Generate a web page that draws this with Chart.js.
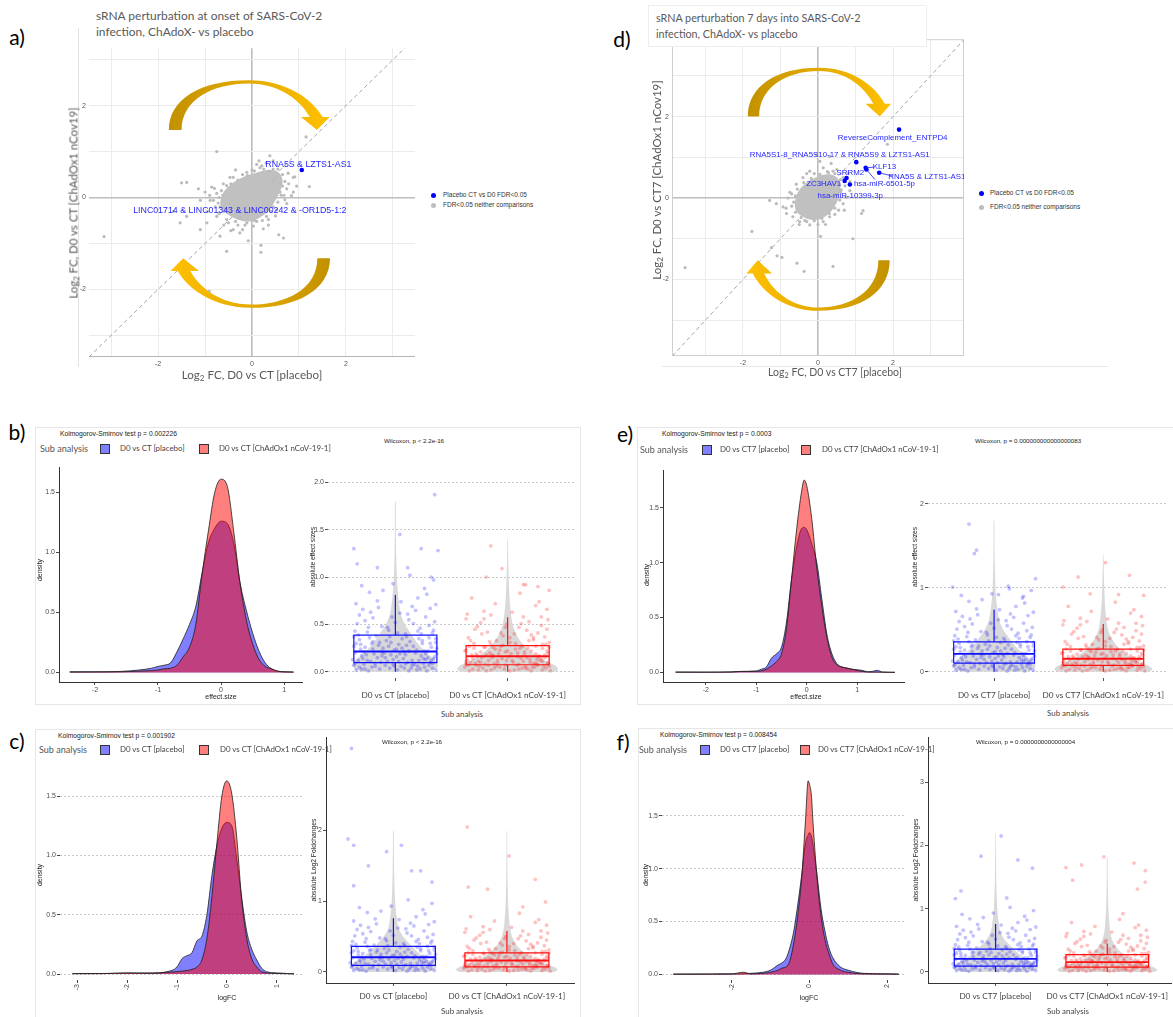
<!DOCTYPE html>
<html lang="en">
<head>
<meta charset="UTF-8">
<title>sRNA perturbation, ChAdOx1 vs placebo</title>
<script src="https://cdn.jsdelivr.net/npm/chart.js@4.4.1/dist/chart.umd.min.js"></script>
<style>
  body { margin: 0; width: 1173px; height: 1017px; position: relative; overflow: hidden; background: #fff; }
  .t { position: absolute; white-space: nowrap; }
  .fr { position: absolute; border: 1px solid #E6E6E6; box-sizing: border-box; }
  .key { position: absolute; width: 10px; height: 10px; border: 1px solid #333; box-sizing: border-box; }
  sub { font-size: 70%; vertical-align: -0.25em; line-height: 0; }
</style>
</head>
<body>
<div class="fr" style="left:35px;top:427px;width:546px;height:278px"></div>
<div class="fr" style="left:637px;top:427px;width:540px;height:278px"></div>
<div class="fr" style="left:35px;top:729px;width:546px;height:292px"></div>
<div class="fr" style="left:638px;top:728px;width:540px;height:292px"></div>
<div style="position:absolute;left:78px;top:28px;width:1px;height:339px;background:#E2E2E2"></div>
<div style="position:absolute;left:662px;top:366px;width:446px;height:1px;background:#E8E8E8"></div>
<script>
// ---------- data: scatter panels a) and d) ----------
const gridTicks = [-3, -2, -1, 0, 1, 2, 3];
const labelTicks = [-2, 0, 2];
const diagonal = [-4, 4];

const aGray = [[-3.15,-0.85],[-0.75,1.0],[-1.5,0.32],[-1.14,0.19],[-0.91,-2.04],[-0.54,-1.17],[-0.08,-0.94],
  [0.19,-1.04],[0.19,-1.19],[0.57,-0.81],[0.67,-0.88],[1.15,1.32],[1.22,0.24],[0.38,0.91],[0.84,0.04],[0.24,-0.68],
  [0.77,0.53],[0.91,0.45],[0.37,0.57],[0.45,0.37],[0.6,0.3],[0.74,0.19],[0.68,0.05],[0.88,0.12],[0.1,0.72],
  [0.17,0.65],[-0.11,0.55],[-0.47,0.44],[-0.61,0.3],[-0.86,0.23],[-1.0,0.12],[-0.82,-0.06],[-1.1,-0.06],[-1.39,0.33],
  [-1.1,-0.7],[-0.96,-0.55],[-0.68,-0.84],[-0.4,-0.7],[-0.26,-0.77],[0.03,-0.62],[0.1,-0.52],[-0.11,-0.55],
  [-0.54,-0.48],[-0.75,-0.41],[-1.39,-0.41],[-1.53,-0.55],[-1.67,-0.3],[-0.26,-0.45],[0.31,-0.41],[0.52,-0.27],
  [0.74,-0.13],[0.6,0.12],[0.88,0.44],[0.21,0.69],[-0.4,0.44],[-0.54,0.26],[-0.75,0.09],[-0.89,-0.06],[-0.68,-0.2],
  [-0.47,-0.13],[0.5,0.45],[0.55,0.62],[0.3,0.75],[-0.2,0.5],[-0.6,-0.3],[-0.3,-0.6],[0.4,-0.3],[0.65,0.25],
  [-0.7,0.0],[0.0,0.6],[-0.8,0.2],[-0.72,-0.12],[-0.65,0.15],[-0.7,-0.35],[-0.5,-0.55],[-0.35,-0.52],[-0.15,-0.6],
  [0.05,-0.5],[0.22,-0.5],[0.35,-0.48],[0.45,-0.2],[0.55,-0.1],[0.62,0.05],[0.7,0.35],[0.65,0.5],[0.45,0.62],
  [0.25,0.62],[0.05,0.58],[-0.1,0.48],[-0.3,0.38],[-0.45,0.3],[-0.62,0.05],[-0.78,-0.2],[-0.9,0.05],[0.78,0.3],
  [0.7,-0.05],[0.5,-0.4],[-0.2,-0.7],[-0.6,-0.6],[0.15,0.8],[0.45,0.8],[-0.35,0.6],[-0.95,-0.3],[0.95,0.25],
  [0.35,-0.6],[-0.45,-0.72]];
const aCore = [[-0.66,-0.1],[-0.58,0.12],[-0.4,0.3],[-0.15,0.44],[0.1,0.52],[0.32,0.58],[0.54,0.54],[0.63,0.36],
  [0.58,0.15],[0.48,-0.05],[0.34,-0.27],[0.15,-0.42],[-0.05,-0.5],[-0.27,-0.47],[-0.47,-0.37],[-0.62,-0.25]];
const aBlue = [[1.06, 0.6]];
const aLabels = ['RNA5S & LZTS1-AS1', 'LINC01714 & LINC01343 & LINC00242 & -OR1D5-1:2'];
const aLabelX = [1.2, -0.26];
const aLabelY = [0.72, -0.28];

const dGray = [[-1.76,-0.82],[-3.54,-1.71],[-1.24,-1.22],[-1.09,-1.42],[-0.96,-1.46],[-0.56,-1.6],[-0.37,-1.8],
  [0.4,-1.68],[0.93,-1.0],[0.07,-0.94],[1.16,-0.38],[1.2,-0.31],[-1.29,-0.06],[-1.11,-0.14],[-0.93,-0.22],
  [-0.75,0.14],[-0.84,-0.38],[-0.67,-0.46],[-0.49,-0.58],[-0.22,-0.66],[0.14,-0.58],[0.31,-0.46],[0.67,-0.14],
  [0.76,0.02],[0.85,0.18],[0.58,0.34],[0.4,0.66],[0.14,0.74],[0.05,0.9],[-0.22,0.66],[-0.4,0.5],[-0.58,0.34],
  [0.67,0.5],[1.85,1.32],[0.31,1.02],[-0.04,1.06],[-0.6,0.05],[-0.7,-0.2],[0.55,-0.3],[0.6,0.15],[0.25,0.65],
  [-0.1,0.6],[-0.35,-0.55],[0.45,-0.4],[0.0,-0.65],[0.85,0.4],[-0.7,0.1],[-0.65,-0.1],[-0.6,-0.35],[-0.45,-0.48],
  [-0.3,-0.58],[-0.1,-0.56],[0.1,-0.5],[0.3,-0.38],[0.45,-0.25],[0.58,-0.05],[0.62,0.2],[0.6,0.45],[0.45,0.6],
  [0.28,0.62],[0.05,0.58],[-0.18,0.48],[-0.38,0.38],[-0.55,0.22],[-0.8,0.0],[0.72,0.3],[0.5,0.7],[-0.3,0.6],
  [-0.85,-0.25],[0.2,-0.65],[0.8,0.6],[0.35,0.85],[-0.5,-0.65],[0.7,-0.3]];
const dCore = [[-0.6,-0.12],[-0.52,0.12],[-0.33,0.33],[-0.08,0.47],[0.18,0.55],[0.41,0.53],[0.56,0.37],[0.56,0.12],
  [0.46,-0.13],[0.29,-0.35],[0.06,-0.49],[-0.18,-0.51],[-0.41,-0.43],[-0.56,-0.31]];
const dBlue = [[2.16,1.68],[1.02,0.88],[1.27,0.74],[0.76,0.49],[1.63,0.62],[1.29,0.70],[0.71,0.42],[0.85,0.33]];
const dLabels = ['ReverseComplement_ENTPD4', 'RNA5S1-8_RNA5S10-17 & RNA5S9 & LZTS1-AS1', 'KLF13', 'SRRM2',
  'RNA5S & LZTS1-AS1', 'hsa-miR-6501-5p', 'ZC3HAV1', 'hsa-miR-10399-3p'];
const dLabelX = [1.99, 0.58, 1.77, 0.86, 2.9, 1.77, 0.15, 0.86];
const dLabelY = [1.49, 1.05, 0.77, 0.63, 0.51, 0.34, 0.34, 0.06];
const dSegments = [[1.27,0.74,1.5,0.76],[1.63,0.62,1.98,0.54],[1.29,0.70,1.52,0.45]];

// ---------- data: density plots ----------
const bX = [-2.4,-2.0,-1.6,-1.3,-1.1,-1.0,-0.9,-0.8,-0.7,-0.6,-0.5,-0.4,-0.3,-0.2,-0.1,0,0.1,0.2,0.3,0.4,0.5,0.6,0.7,0.8,0.9,1.0,1.15];
const bBlue = [0.005,0.005,0.008,0.02,0.035,0.05,0.06,0.08,0.17,0.28,0.4,0.55,0.83,1.08,1.2,1.26,1.24,1.08,0.75,0.52,0.33,0.18,0.08,0.03,0.01,0.005,0.003];
const bRed = [0.003,0.004,0.005,0.01,0.015,0.02,0.03,0.035,0.06,0.13,0.21,0.4,0.82,1.18,1.5,1.61,1.55,1.18,0.75,0.44,0.24,0.11,0.05,0.03,0.01,0.005,0.003];

const cX = [-3.1,-2.5,-2.0,-1.5,-1.2,-1.0,-0.9,-0.8,-0.7,-0.6,-0.5,-0.4,-0.3,-0.2,-0.1,0,0.1,0.2,0.3,0.4,0.5,0.6,0.7,0.8,1.0,1.2,1.35];
const cBlue = [0.004,0.004,0.008,0.01,0.02,0.06,0.13,0.155,0.18,0.28,0.32,0.5,0.83,1.08,1.23,1.28,1.25,0.97,0.64,0.36,0.21,0.12,0.05,0.02,0.01,0.005,0.002];
const cRed = [0.003,0.004,0.01,0.006,0.015,0.02,0.025,0.03,0.04,0.06,0.12,0.3,0.65,1.1,1.5,1.63,1.52,1.15,0.62,0.3,0.13,0.06,0.02,0.01,0.005,0.003,0.002];

const eX = [-2.6,-2.0,-1.5,-1.3,-1.0,-0.9,-0.8,-0.7,-0.6,-0.5,-0.4,-0.3,-0.2,-0.1,-0.05,0,0.1,0.2,0.3,0.4,0.5,0.6,0.7,0.8,0.9,1.0,1.1,1.2,1.3,1.4,1.5,1.75];
const eBlue = [0.005,0.004,0.006,0.01,0.015,0.03,0.05,0.13,0.17,0.23,0.46,0.85,1.14,1.31,1.32,1.3,1.17,1.0,0.67,0.35,0.17,0.08,0.05,0.04,0.03,0.025,0.02,0.008,0.01,0.02,0.005,0.002];
const eRed = [0.003,0.003,0.005,0.01,0.01,0.015,0.03,0.06,0.1,0.17,0.4,0.85,1.3,1.65,1.75,1.7,1.4,0.95,0.6,0.32,0.14,0.07,0.05,0.04,0.03,0.02,0.01,0.005,0.004,0.004,0.003,0.002];

const fX = [-3.5,-2.5,-2.0,-1.7,-1.5,-1.2,-1.0,-0.8,-0.7,-0.6,-0.5,-0.4,-0.3,-0.2,-0.1,-0.03,0,0.05,0.1,0.2,0.3,0.4,0.5,0.6,0.8,1.0,1.2,1.4,2.0,2.3];
const fBlue = [0.003,0.004,0.005,0.006,0.01,0.02,0.04,0.09,0.11,0.15,0.255,0.41,0.655,0.93,1.24,1.32,1.34,1.31,1.21,0.93,0.62,0.41,0.255,0.16,0.07,0.04,0.02,0.01,0.005,0.003];
const fRed = [0.002,0.003,0.004,0.02,0.005,0.01,0.02,0.04,0.06,0.07,0.13,0.3,0.55,0.9,1.45,1.83,1.8,1.7,1.4,0.9,0.55,0.33,0.2,0.1,0.04,0.02,0.01,0.005,0.004,0.002];

// ---------- data: violin / box / jitter plots ----------
const violinY = [0,0.03,0.07,0.12,0.2,0.3,0.4,0.5,0.6,0.7,0.8,0.9,1.0,1.2,1.4,1.6,1.8,2.0,2.2];

// [x offset from group centre, value]
const jitterPlacebo = [[-0.35,0.02],[-0.21,0.05],[0.12,0.01],[0.30,0.07],[-0.05,0.04],[0.22,0.03],[-0.28,0.08],
  [0.05,0.06],[0.36,0.02],[-0.14,0.03],[0.17,0.08],[-0.32,0.05],[0.26,0.05],[-0.09,0.07],[0.02,0.02],[-0.24,0.01],
  [0.33,0.04],[0.09,0.085],[-0.18,0.06],[0.14,0.04],[-0.37,0.07],[0.28,0.01],[-0.02,0.08],[0.20,0.06],[-0.30,0.03],
  [-0.33,0.12],[0.11,0.10],[-0.16,0.15],[0.27,0.13],[0.04,0.19],[-0.26,0.18],[0.35,0.16],[-0.07,0.11],[0.18,0.20],
  [-0.36,0.20],[0.31,0.10],[-0.12,0.17],[0.07,0.14],[-0.22,0.11],[0.23,0.17],[-0.02,0.13],[0.15,0.12],[-0.29,0.14],
  [0.37,0.19],[-0.10,0.20],[0.01,0.16],[0.25,0.09],[-0.19,0.19],[0.34,0.14],[-0.04,0.18],
  [-0.31,0.24],[0.16,0.27],[-0.08,0.33],[0.29,0.22],[-0.23,0.36],[0.06,0.25],[0.36,0.31],[-0.15,0.28],[0.21,0.35],
  [-0.35,0.30],[0.10,0.37],[-0.01,0.23],[0.32,0.26],[-0.27,0.26],[0.13,0.32],[-0.11,0.25],[0.24,0.30],[-0.37,0.37],
  [0.03,0.29],[-0.20,0.32],[0.30,0.36],[-0.05,0.37],[0.19,0.23],[-0.32,0.34],[0.08,0.21],
  [-0.25,0.42],[0.22,0.46],[-0.34,0.51],[0.12,0.55],[0.33,0.41],[-0.12,0.48],[0.04,0.62],[-0.29,0.66],[0.27,0.58],
  [-0.06,0.44],[0.36,0.71],[-0.20,0.57],[0.15,0.69],[-0.36,0.43],[0.00,0.52],[0.30,0.49],[-0.16,0.75],[0.20,0.78],
  [-0.32,0.60],[0.09,0.40],[-0.23,0.84],[0.26,0.88],[-0.02,0.93],[0.34,0.97],[-0.30,0.91],
  [-0.27,0.03],[0.08,0.04],[0.33,0.09],[-0.13,0.10],[0.19,0.02],[-0.38,0.13],[0.03,0.11],[0.29,0.15],[-0.20,0.24],
  [0.12,0.22],[-0.06,0.27],[0.37,0.25],[-0.31,0.29],[0.24,0.33],[-0.17,0.38],[0.06,0.35],[0.34,0.44],[-0.24,0.47],
  [0.16,0.51],[-0.03,0.58],[-0.36,0.09],[0.21,0.12],[-0.09,0.15],[0.27,0.19],[-0.28,0.21],[0.01,0.24],[0.31,0.30],
  [-0.14,0.31],[0.10,0.28],[-0.33,0.39],[0.23,0.40],[-0.07,0.47],[0.35,0.53],[-0.22,0.63],[0.18,0.65],[-0.35,0.72],
  [0.05,0.74],[0.28,0.82],[-0.11,0.86],[0.13,1.02],[-0.25,0.12],[0.15,0.07],[-0.01,0.06],[0.32,0.12],[-0.18,0.09],
  [0.26,0.22],[-0.30,0.17],[0.09,0.18],[-0.12,0.21],[0.36,0.35],[-0.04,0.31],[0.20,0.43],[-0.27,0.54],[0.11,0.61],
  [0.31,0.67],[-0.15,0.68],[0.02,0.41],[-0.37,0.27],[0.25,0.14],[-0.21,0.30]];
const jitterChad = [[-0.34,0.01],[0.18,0.03],[-0.07,0.05],[0.31,0.02],[-0.22,0.04],[0.08,0.07],[0.37,0.06],
  [-0.15,0.02],[0.24,0.05],[-0.38,0.05],[0.02,0.01],[-0.28,0.07],[0.13,0.04],[-0.10,0.06],[0.34,0.04],[-0.19,0.01],
  [0.27,0.07],[-0.03,0.03],[0.06,0.02],[-0.31,0.03],[0.21,0.01],[-0.25,0.06],[0.16,0.06],[-0.12,0.04],[0.38,0.01],
  [-0.29,0.09],[0.14,0.11],[-0.05,0.14],[0.26,0.08],[-0.36,0.13],[0.05,0.10],[0.33,0.15],[-0.17,0.12],[0.20,0.13],
  [-0.23,0.15],[0.10,0.08],[-0.01,0.12],[0.36,0.10],[-0.33,0.10],[0.17,0.15],[-0.09,0.09],[0.29,0.12],[-0.26,0.11],
  [0.01,0.16],[-0.14,0.15],[0.23,0.09],[-0.37,0.08],[0.12,0.14],[-0.20,0.08],[0.31,0.11],
  [-0.32,0.18],[0.09,0.20],[-0.11,0.24],[0.28,0.17],[-0.21,0.26],[0.03,0.19],[0.35,0.22],[-0.06,0.27],[0.18,0.25],
  [-0.37,0.23],[0.25,0.19],[-0.16,0.20],[0.13,0.27],[-0.27,0.17],[0.37,0.26],[-0.02,0.21],[0.21,0.22],[-0.34,0.27],
  [0.07,0.24],[-0.13,0.17],[0.31,0.25],[-0.24,0.21],[0.15,0.18],[-0.08,0.19],[0.33,0.18],
  [-0.30,0.30],[0.19,0.33],[-0.04,0.38],[0.34,0.29],[-0.18,0.42],[0.10,0.47],[-0.35,0.36],[0.27,0.41],[0.02,0.31],
  [-0.24,0.52],[0.36,0.55],[-0.10,0.33],[0.14,0.58],[-0.29,0.45],[0.23,0.36],[-0.15,0.29],[0.06,0.40],[0.30,0.49],
  [-0.37,0.56],[-0.01,0.50],[-0.21,0.64],[0.25,0.70],[-0.32,0.78],[0.11,0.83],[0.35,0.66],
  [-0.26,0.02],[0.10,0.03],[0.35,0.08],[-0.12,0.09],[0.22,0.05],[-0.37,0.11],[0.04,0.12],[0.30,0.14],[-0.19,0.18],
  [0.15,0.21],[-0.07,0.23],[0.36,0.20],[-0.30,0.25],[0.25,0.27],[-0.16,0.32],[0.07,0.30],[0.33,0.37],[-0.23,0.40],
  [0.17,0.44],[-0.02,0.47],[-0.35,0.07],[0.20,0.10],[-0.09,0.12],[0.27,0.16],[-0.28,0.19],[0.00,0.22],[0.31,0.29],
  [-0.13,0.26],[0.11,0.25],[-0.33,0.33],[0.23,0.34],[-0.06,0.41],[0.35,0.45],[-0.21,0.56],[0.19,0.53],[-0.36,0.61],
  [0.04,0.63],[0.28,0.74],[-0.11,0.72],[0.14,0.92],[-0.24,0.10],[0.16,0.04],[-0.02,0.07],[0.32,0.06],[-0.17,0.07],
  [0.26,0.13],[-0.31,0.14],[0.09,0.16],[-0.14,0.18],[0.37,0.31],[-0.04,0.28],[0.21,0.39],[-0.27,0.48],[0.12,0.51],
  [0.30,0.58],[-0.15,0.60],[0.02,0.36],[-0.38,0.22],[0.25,0.09],[-0.20,0.26]];

const bPlaceboOut = [[0.35,1.87],[0.04,1.45],[-0.37,1.30],[0.23,1.30],[0.38,1.28],[-0.16,1.10],[0.11,1.10],[-0.34,1.14],[0.32,1.00]];
const bChadOut = [[-0.15,1.33],[-0.19,1.00],[-0.05,1.09],[0.16,0.92],[0.37,0.86],[0.27,0.90]];
const ePlaceboOut = [[-0.23,1.76],[-0.18,1.41],[-0.16,1.45],[-0.38,1.01],[0.38,1.11],[0.14,0.99],[0.04,0.92],[0.27,0.90]];
const eChadOut = [[0.02,1.30],[-0.23,1.13],[0.24,1.15],[-0.37,1.01],[-0.12,0.93],[0.37,0.91]];
const cPlaceboOut = [[-0.37,3.16],[-0.40,1.88],[-0.35,1.79],[0.07,1.79],[-0.06,1.70],[-0.22,1.50],[0.16,1.43],[0.24,1.43],[0.34,1.27],[-0.35,1.22]];
const cChadOut = [[-0.35,2.05],[0.02,1.64],[-0.34,1.20],[0.25,1.31],[0.34,0.99],[-0.17,1.17]];
const fPlaceboOut = [[0.05,2.15],[-0.13,1.83],[0.20,1.77],[0.33,1.64],[-0.31,1.28],[-0.36,1.16],[0.10,1.17]];
const fChadOut = [[-0.03,1.82],[0.24,1.72],[-0.23,1.69],[-0.37,1.65],[0.34,1.60],[-0.31,1.45],[0.34,1.42],[0.27,1.31]];

const bPlaceboViolin = [0.3,0.36,0.38,0.36,0.28,0.2,0.14,0.085,0.05,0.035,0.025,0.018,0.013,0.008,0.005,0.004,0.003];
const bChadViolin = [0.42,0.45,0.42,0.33,0.22,0.13,0.075,0.045,0.03,0.022,0.016,0.012,0.009,0.005,0.002];
const ePlaceboViolin = [0.3,0.36,0.38,0.36,0.28,0.2,0.14,0.085,0.05,0.035,0.025,0.018,0.013,0.008,0.005,0.004,0.003];
const eChadViolin = [0.42,0.45,0.42,0.33,0.22,0.13,0.075,0.045,0.03,0.022,0.016,0.012,0.009,0.005,0.002];
const cPlaceboViolin = [0.3,0.36,0.38,0.36,0.28,0.2,0.14,0.085,0.05,0.035,0.027,0.02,0.015,0.01,0.007,0.005,0.004,0.003];
const cChadViolin = [0.42,0.45,0.42,0.33,0.22,0.13,0.075,0.045,0.03,0.022,0.017,0.013,0.01,0.007,0.005,0.004,0.003,0.002];
const fPlaceboViolin = [0.3,0.36,0.38,0.36,0.28,0.2,0.14,0.085,0.05,0.035,0.027,0.02,0.015,0.01,0.007,0.005,0.004,0.003,0.002];
const fChadViolin = [0.42,0.45,0.42,0.33,0.22,0.13,0.075,0.045,0.03,0.022,0.017,0.013,0.01,0.007,0.005,0.004,0.003];

// [lower whisker, q1, median, q3, upper whisker]
const bPlaceboBox = [0.0, 0.097, 0.214, 0.387, 0.81];
const bChadBox = [0.0, 0.075, 0.165, 0.276, 0.576];
const ePlaceboBox = [0.0, 0.105, 0.214, 0.358, 0.74];
const eChadBox = [0.0, 0.078, 0.156, 0.272, 0.57];
const cPlaceboBox = [0.0, 0.093, 0.208, 0.36, 0.76];
const cChadBox = [0.0, 0.07, 0.162, 0.268, 0.578];
const fPlaceboBox = [0.0, 0.093, 0.207, 0.36, 0.757];
const fChadBox = [0.0, 0.077, 0.155, 0.273, 0.45];

const catsCT = ['D0 vs CT [placebo]', 'D0 vs CT [ChAdOx1 nCoV-19-1]'];
const catsCT7 = ['D0 vs CT7 [placebo]', 'D0 vs CT7 [ChAdOx1 nCoV-19-1]'];

// ---------- helpers ----------
const CAL = 'Lato', ARI = '"Liberation Sans"';
Chart.defaults.font.family = "'Liberation Sans', Arial, sans-serif";
const mctx = document.createElement('canvas').getContext('2d');
function fitSize(text, family, width) {
  mctx.font = `100px ${family}`;
  return +(100 * width / mctx.measureText(text).width).toFixed(2);
}

function txt(html, x, y, opt) {
  const d = document.createElement('div');
  d.className = 't';
  d.innerHTML = html;
  const fam = opt.fam || CAL;
  const size = opt.w ? fitSize(opt.plain || html, fam, opt.w) : opt.size;
  const tr = {l: 'translate(0,-50%)', c: 'translate(-50%,-50%)', v: 'translate(-50%,-50%) rotate(-90deg)'}[opt.anchor || 'c'];
  d.style.cssText = `left:${x}px;top:${y}px;transform:${tr};font-family:${fam};font-size:${size}px;` +
    `color:${opt.color || '#444'};line-height:1.15`;
  document.body.appendChild(d);
}

function key(x, y, color) {
  const d = document.createElement('div');
  d.className = 'key';
  d.style.left = (x - 5) + 'px';
  d.style.top = (y - 5) + 'px';
  d.style.background = color;
  document.body.appendChild(d);
}

function place(l, t, r, b, yW, xH) {
  const c = document.createElement('canvas');
  const w = r - l + yW, h = b - t + xH;
  c.width = w; c.height = h;
  c.style.cssText = `position:absolute;left:${l - yW}px;top:${t}px;width:${w}px;height:${h}px`;
  document.body.appendChild(c);
  return c;
}

function baseOptions(yW, xH, xs, ys) {
  xs.afterFit = s => { s.height = xH; };
  ys.afterFit = s => { s.width = yW; };
  return {
    responsive: false, animation: false, devicePixelRatio: 1, events: [],
    layout: {padding: 0, autoPadding: false},
    plugins: {legend: {display: false}, tooltip: {enabled: false}},
    scales: {x: xs, y: ys}
  };
}

const pts = arr => arr.map(([x, y]) => ({x, y}));
const zip = (xs, ys) => xs.map((x, i) => ({x, y: ys[i]}));
const fixed = vals => s => { s.ticks = vals.map(v => ({value: v})); };

// ---------- scatter panels ----------
function scatterScale(min, max, pad) {
  return {
    type: 'linear', min, max,
    afterBuildTicks: fixed(gridTicks),
    ticks: {callback: v => labelTicks.includes(v) ? String(v) : '', font: {size: 7}, color: '#555', padding: pad,
      maxRotation: 0, autoSkip: false},
    grid: {color: c => c.tick && c.tick.value === 0 ? '#BDBDBD' : '#EBEBEB',
      lineWidth: c => c.tick && c.tick.value === 0 ? 1.6 : 1, drawTicks: false},
    border: {display: false}
  };
}

const arrowShape = [
  ['M', 0, 0], ['C', 0, 0.62, 0.2, 1, 0.5, 1], ['C', 0.74, 1, 0.9, 0.62, 0.965, 0.26],
  ['L', 1.01, 0.26], ['L', 0.93, 0], ['L', 0.83, 0.26], ['L', 0.885, 0.26],
  ['C', 0.83, 0.58, 0.7, 0.935, 0.5, 0.935], ['C', 0.28, 0.935, 0.08, 0.62, 0.08, 0]
];

function arrowPlugin(arrows) {
  return {
    id: 'arrows',
    afterDatasetsDraw(chart) {
      const {ctx, scales: {x, y}} = chart;
      arrows.forEach(a => {
        const x0 = x.getPixelForValue(a.from), x1 = x.getPixelForValue(a.to);
        const y0 = y.getPixelForValue(a.base), y1 = y.getPixelForValue(a.peak);
        const X = u => x0 + u * (x1 - x0), Y = v => y0 + v * (y1 - y0);
        const g = ctx.createLinearGradient(X(0), 0, X(1), 0);
        g.addColorStop(0, '#C29100');
        g.addColorStop(0.45, '#E0A800');
        g.addColorStop(1, '#FFC000');
        ctx.save();
        ctx.beginPath();
        arrowShape.forEach(([cmd, ...p]) => {
          if (cmd === 'M') ctx.moveTo(X(p[0]), Y(p[1]));
          else if (cmd === 'L') ctx.lineTo(X(p[0]), Y(p[1]));
          else ctx.bezierCurveTo(X(p[0]), Y(p[1]), X(p[2]), Y(p[3]), X(p[4]), Y(p[5]));
        });
        ctx.closePath();
        ctx.fillStyle = g;
        ctx.fill();
        ctx.restore();
      });
    }
  };
}

function labelPlugin(texts, lx, ly, segs, size) {
  return {
    id: 'pointLabels',
    afterDatasetsDraw(chart) {
      const {ctx, scales: {x, y}} = chart;
      ctx.save();
      ctx.strokeStyle = '#1F1FFF';
      ctx.lineWidth = 0.8;
      segs.forEach(([a, b, c, d]) => {
        ctx.beginPath();
        ctx.moveTo(x.getPixelForValue(a), y.getPixelForValue(b));
        ctx.lineTo(x.getPixelForValue(c), y.getPixelForValue(d));
        ctx.stroke();
      });
      ctx.font = `${size}px ${ARI}`;
      ctx.fillStyle = '#1F1FFF';
      ctx.textAlign = 'center';
      ctx.textBaseline = 'middle';
      texts.forEach((t, i) => ctx.fillText(t, x.getPixelForValue(lx[i]), y.getPixelForValue(ly[i])));
      ctx.restore();
    }
  };
}

function framePlugin(mode) {
  return {
    id: 'frame',
    beforeDatasetsDraw(chart) {
      const {ctx, chartArea: ca} = chart;
      ctx.save();
      ctx.strokeStyle = mode === 'box' ? '#CFCFCF' : '#B5B5B5';
      ctx.lineWidth = 1;
      ctx.beginPath();
      if (mode === 'box') ctx.rect(ca.left + 0.5, ca.top + 0.5, ca.width - 1, ca.height - 1);
      else { ctx.moveTo(ca.left, ca.bottom - 0.5); ctx.lineTo(ca.right, ca.bottom - 0.5); }
      ctx.stroke();
      ctx.restore();
    }
  };
}

function scatterPanel(box, xr, yr, gray, core, blue, labels, arrows, frame) {
  const [l, t, r, b, yW, xH] = box;
  const canvas = place(l, t, r, b, yW, xH);
  new Chart(canvas, {
    type: 'scatter',
    data: {datasets: [
      {data: pts(blue), pointRadius: 2.3, pointBackgroundColor: '#0000FF', pointBorderWidth: 0, order: 0},
      {data: pts(gray), pointRadius: 1.6, pointBackgroundColor: '#BBBBBB', pointBorderWidth: 0, order: 1},
      {type: 'line', data: pts(core.concat([core[0]])), fill: 'shape', backgroundColor: '#C0C0C0',
        borderColor: '#C0C0C0', borderWidth: 2, tension: 0.35, pointRadius: 0, order: 2},
      {type: 'line', data: diagonal.map(v => ({x: v, y: v})), borderColor: '#9C9C9C', borderWidth: 0.9,
        borderDash: [4, 3], pointRadius: 0, fill: false, order: 3}
    ]},
    options: baseOptions(yW, xH, scatterScale(xr[0], xr[1], 3), scatterScale(yr[0], yr[1], 3)),
    plugins: [framePlugin(frame), arrowPlugin(arrows), labelPlugin(...labels)]
  });
}

scatterPanel([89, 41, 415, 357, 16, 14], [-3.47, 3.47], [-3.47, 3.25], aGray, aCore, aBlue,
  [aLabels, aLabelX, aLabelY, [], 8.8],
  [{from: -1.77, to: 1.62, base: 1.47, peak: 2.55}, {from: 1.66, to: -1.70, base: -1.32, peak: -2.40}], 'bottom');

scatterPanel([672, 32, 964, 356, 16, 14], [-3.89, 3.89], [-3.88, 3.9], dGray, dCore, dBlue,
  [dLabels, dLabelX, dLabelY, dSegments, 7.9],
  [{from: -1.87, to: 1.91, base: 2.0, peak: 3.2}, {from: 1.91, to: -1.87, base: -1.53, peak: -2.77}], 'box');

// ---------- density panels ----------
function densityPanel(box, xr, yr, xs, blue, red, xTicks, classic) {
  const [l, t, r, b, yW, xH] = box;
  const canvas = place(l, t, r, b, yW, xH);
  const curve = (ys, col, order) => ({type: 'line', data: zip(xs, ys), fill: 'origin', backgroundColor: col,
    borderColor: '#1E1E1E', borderWidth: 0.8, pointRadius: 0, cubicInterpolationMode: 'monotone', order});
  const xs_ = {type: 'linear', min: xr[0], max: xr[1], afterBuildTicks: fixed(xTicks),
    ticks: {callback: v => String(v), font: {size: 7}, color: '#4D4D4D', padding: 1, autoSkip: false,
      maxRotation: classic ? 0 : 90, minRotation: classic ? 0 : 90},
    grid: {drawOnChartArea: false, drawTicks: true, tickLength: 3, tickColor: '#444'},
    border: {display: classic, color: '#333', width: 1}};
  const ys_ = {type: 'linear', min: yr[0], max: yr[1], afterBuildTicks: fixed([0, 0.5, 1, 1.5]),
    ticks: {callback: v => v.toFixed(1), font: {size: 7}, color: '#4D4D4D', padding: 1},
    grid: {drawOnChartArea: !classic, color: '#C8C8C8', drawTicks: true, tickLength: 3, tickColor: '#444',
      tickBorderDash: []},
    border: {display: classic, color: '#333', width: 1, dash: [2, 2]}};
  new Chart(canvas, {
    type: 'scatter',
    data: {datasets: [curve(red, 'rgba(255,0,0,0.5)', 0), curve(blue, 'rgba(0,0,255,0.5)', 1)]},
    options: baseOptions(yW, xH, xs_, ys_)
  });
}

densityPanel([59, 462, 303, 682, 20, 12], [-2.57, 1.30], [-0.08, 1.71], bX, bBlue, bRed, [-2, -1, 0, 1], true);
densityPanel([663, 465, 905, 682, 20, 12], [-2.85, 1.95], [-0.086, 1.84], eX, eBlue, eRed, [-2, -1, 0, 1], true);
densityPanel([60, 765, 303, 980, 20, 14], [-3.35, 1.53], [-0.05, 1.72], cX, cBlue, cRed, [-3, -2, -1, 0, 1], false);
densityPanel([662, 765, 905, 980, 20, 14], [-3.79, 2.46], [-0.053, 1.93], fX, fBlue, fRed, [-2, 0, 2], false);

// ---------- violin + box + jitter panels ----------
const catFont = fitSize('D0 vs CT [placebo]', CAL, 67.7);

function violinPanel(box, xr, yr, yTicks, yFmt, cats, groups, classic, catPad) {
  const [l, t, r, b, yW, xH] = box;
  const canvas = place(l, t, r, b, yW, xH);
  const datasets = [];
  const seg = (p, col, w) => ({type: 'line', data: pts(p), borderColor: col, borderWidth: w, pointRadius: 0,
    fill: false, tension: 0, order: 0});
  groups.forEach((g, gi) => {
    const c = gi + 1;
    const base = gi === 0 ? jitterPlacebo : jitterChad;
    datasets.push({type: 'scatter', data: base.concat(g.out).map(([dx, y]) => ({x: c + dx, y})),
      pointRadius: 1.9, pointBackgroundColor: g.pt, pointBorderWidth: 0, order: 2});
    const right = g.violin.map((w, i) => ({x: c + w, y: violinY[i]}));
    const left = g.violin.map((w, i) => ({x: c - w, y: violinY[i]})).reverse();
    datasets.push({type: 'line', data: right.concat(left), fill: 'shape', backgroundColor: '#D9D9D9',
      borderColor: 'rgba(0,0,0,0)', borderWidth: 0, pointRadius: 0, tension: 0.25, order: 3});
    const [lo, q1, med, q3, hi] = g.box, w = 0.37;
    datasets.push(seg([[c - w, q1], [c + w, q1], [c + w, q3], [c - w, q3], [c - w, q1]], g.line, 1.2));
    datasets.push(seg([[c - w, med], [c + w, med]], g.line, 1.9));
    datasets.push(seg([[c, q3], [c, hi]], g.line, 1.2));
    datasets.push(seg([[c, lo], [c, q1]], g.line, 1.2));
  });
  const xs_ = {type: 'linear', min: xr[0], max: xr[1], afterBuildTicks: fixed([1, 2]),
    ticks: {callback: v => cats[v - 1], font: {size: catFont, family: CAL}, color: '#444', padding: catPad,
      maxRotation: 0, autoSkip: false},
    grid: {drawOnChartArea: false, drawTicks: true, tickLength: 3, tickColor: '#555'},
    border: {display: classic, color: '#333', width: 1}};
  const ys_ = {type: 'linear', min: yr[0], max: yr[1], afterBuildTicks: fixed(yTicks),
    ticks: {callback: yFmt, font: {size: 7}, color: '#4D4D4D', padding: 1},
    grid: {drawOnChartArea: !classic, color: '#C8C8C8', drawTicks: true, tickLength: 3, tickColor: '#555',
      tickBorderDash: []},
    border: {display: classic, color: '#333', width: 1, dash: [2, 2]}};
  new Chart(canvas, {type: 'scatter', data: {datasets}, options: baseOptions(yW, xH, xs_, ys_)});
}

const blueG = (violin, box, out) => ({violin, box, out, pt: 'rgba(0,0,255,0.24)', line: '#1010FF'});
const redG = (violin, box, out) => ({violin, box, out, pt: 'rgba(255,0,0,0.24)', line: '#FF1010'});

violinPanel([328, 445, 575, 678, 16, 24], [0.4, 2.6], [-0.065, 2.34], [0, 0.5, 1, 1.5, 2], v => v.toFixed(1), catsCT,
  [blueG(bPlaceboViolin, bPlaceboBox, bPlaceboOut), redG(bChadViolin, bChadBox, bChadOut)], false, 9);
violinPanel([928, 445, 1173, 678, 14, 24], [0.395, 2.576], [-0.073, 2.64], [0, 1, 2], v => String(v), catsCT7,
  [blueG(ePlaceboViolin, ePlaceboBox, ePlaceboOut), redG(eChadViolin, eChadBox, eChadOut)], false, 9);
violinPanel([326, 732, 575, 983, 14, 22], [0.406, 2.6], [-0.157, 3.32], [0, 1, 2], v => String(v), catsCT,
  [blueG(cPlaceboViolin, cPlaceboBox, cPlaceboOut), redG(cChadViolin, cChadBox, cChadOut)], true, 5);
violinPanel([928, 732, 1173, 983, 14, 22], [0.395, 2.576], [-0.175, 3.71], [0, 1, 2, 3], v => String(v), catsCT7,
  [blueG(fPlaceboViolin, fPlaceboBox, fPlaceboOut), redG(fChadViolin, fChadBox, fChadOut)], true, 5);

// ---------- text: panel letters, titles, axis titles ----------
[['a)', 17, 37], ['d)', 622, 39], ['b)', 17, 432], ['e)', 625, 434], ['c)', 17, 741], ['f)', 623, 742]]
  .forEach(([s, x, y]) => txt(s, x, y, {size: 21, color: '#000'}));

const tA = fitSize('sRNA perturbation at onset of SARS-CoV-2', CAL, 227);
txt('sRNA perturbation at onset of SARS-CoV-2', 96, 16, {size: tA, color: '#595959', anchor: 'l'});
txt('infection, ChAdoX- vs placebo', 96, 32, {size: tA, color: '#595959', anchor: 'l'});

const box = document.createElement('div');
box.style.cssText = 'position:absolute;left:648px;top:5px;width:279px;height:42px;background:#fff;border:1px solid #EEE;box-sizing:border-box';
document.body.appendChild(box);
const tD = fitSize('sRNA perturbation 7 days into SARS-CoV-2', CAL, 205);
txt('sRNA perturbation 7 days into SARS-CoV-2', 656, 18, {size: tD, color: '#595959', anchor: 'l'});
txt('infection, ChAdoX- vs placebo', 656, 34, {size: tD, color: '#595959', anchor: 'l'});

txt('Log<sub>2</sub> FC, D0 vs CT [placebo]', 252, 375, {w: 143, plain: 'Log2 FC, D0 vs CT [placebo]', color: '#595959'});
txt('Log<sub>2</sub> FC, D0 vs CT [ChAdOx1 nCov19]', 73, 203,
  {w: 194, plain: 'Log2 FC, D0 vs CT [ChAdOx1 nCov19]', color: '#595959', anchor: 'v'});
txt('Log<sub>2</sub> FC, D0 vs CT7 [placebo]', 835, 372, {w: 136, plain: 'Log2 FC, D0 vs CT7 [placebo]', color: '#595959'});
txt('Log<sub>2</sub> FC, D0 vs CT7 [ChAdOx1 nCov19]', 657, 180,
  {w: 202, plain: 'Log2 FC, D0 vs CT7 [ChAdOx1 nCov19]', color: '#595959', anchor: 'v'});

// scatter legends
const lg = {fam: ARI, color: '#333', anchor: 'l'};
const lgS = fitSize('Placebo CT vs D0 FDR<0.05', ARI, 84);
[[433, 195, 205, 443], [981, 193, 207, 990]].forEach(([kx, y1, y2, tx]) => {
  const dot = (y, col) => {
    const d = document.createElement('div');
    d.style.cssText = `position:absolute;left:${kx - 2.5}px;top:${y - 2.5}px;width:5px;height:5px;border-radius:50%;background:${col}`;
    document.body.appendChild(d);
  };
  dot(y1, '#0000FF'); dot(y2, '#BDBDBD');
  txt('Placebo CT vs D0 FDR&lt;0.05', tx, y1, Object.assign({size: lgS}, lg));
  txt('FDR&lt;0.05 neither comparisons', tx, y2, Object.assign({size: lgS}, lg));
});

// KS / Wilcoxon annotations
const sm = {fam: ARI, color: '#222', anchor: 'l'};
const ksS = fitSize('Kolmogorov-Smirnov test p = 0.002226', ARI, 117);
txt('Kolmogorov-Smirnov test p = 0.002226', 60, 434, Object.assign({size: ksS}, sm));
txt('Kolmogorov-Smirnov test p = 0.0003', 662, 434, Object.assign({size: ksS}, sm));
txt('Kolmogorov-Smirnov test p = 0.001902', 58, 736, Object.assign({size: ksS}, sm));
txt('Kolmogorov-Smirnov test p = 0.008454', 660, 735, Object.assign({size: ksS}, sm));
const wS = fitSize('Wilcoxon, p < 2.2e-16', ARI, 60);
txt('Wilcoxon, p &lt; 2.2e-16', 384, 441, Object.assign({size: wS}, sm));
txt('Wilcoxon, p = 0.000000000000000083', 975, 441, Object.assign({size: wS}, sm));
txt('Wilcoxon, p &lt; 2.2e-16', 382, 742, Object.assign({size: wS}, sm));
txt('Wilcoxon, p = 0.0000000000000004', 976, 742, Object.assign({size: wS}, sm));

// sub analysis legends
const saS = fitSize('Sub analysis', CAL, 48);
const lgT = fitSize('D0 vs CT [placebo]', CAL, 65);
[[40, 449, 100, 120, 199, 219, catsCT], [640, 450, 702, 720, 801, 822, catsCT7],
 [39, 750, 100, 120, 199, 220, catsCT], [639, 750, 700, 720, 800, 818, catsCT7]]
  .forEach(([sx, y, k1, t1, k2, t2, cats]) => {
    txt('Sub analysis', sx, y, {size: saS, color: '#555', anchor: 'l'});
    key(k1 + 5, y, '#7F7FFF');
    txt(cats[0], t1, y, {size: lgT, color: '#444', anchor: 'l'});
    key(k2 + 5, y, '#FF7F7F');
    txt(cats[1], t2, y, {size: lgT, color: '#444', anchor: 'l'});
  });

// small axis titles
const ax = {fam: ARI, color: '#222', size: 7};
txt('density', 40, 570, Object.assign({anchor: 'v'}, ax));
txt('density', 647, 575, Object.assign({anchor: 'v'}, ax));
txt('density', 40, 875, Object.assign({anchor: 'v'}, ax));
txt('density', 646, 875, Object.assign({anchor: 'v'}, ax));
txt('effect.size', 221, 697, ax);
txt('effect.size', 806, 697, ax);
txt('logFC', 227, 998, ax);
txt('logFC', 809, 998, ax);
const aeS = fitSize('absolute effect sizes', ARI, 60);
txt('absolute effect sizes', 313, 557, {fam: ARI, color: '#222', size: aeS, anchor: 'v'});
txt('absolute effect sizes', 915, 557, {fam: ARI, color: '#222', size: aeS, anchor: 'v'});
const alS = fitSize('absolute Log2 Foldchanges', ARI, 83);
txt('absolute Log2 Foldchanges', 314, 860, {fam: ARI, color: '#222', size: alS, anchor: 'v'});
txt('absolute Log2 Foldchanges', 916, 860, {fam: ARI, color: '#222', size: alS, anchor: 'v'});
const subS = fitSize('Sub analysis', CAL, 42);
[[462, 715], [1068, 714], [462, 1012], [1068, 1012]].forEach(([x, y]) => txt('Sub analysis', x, y, {size: subS, color: '#444'}));
</script>
</body>
</html>
